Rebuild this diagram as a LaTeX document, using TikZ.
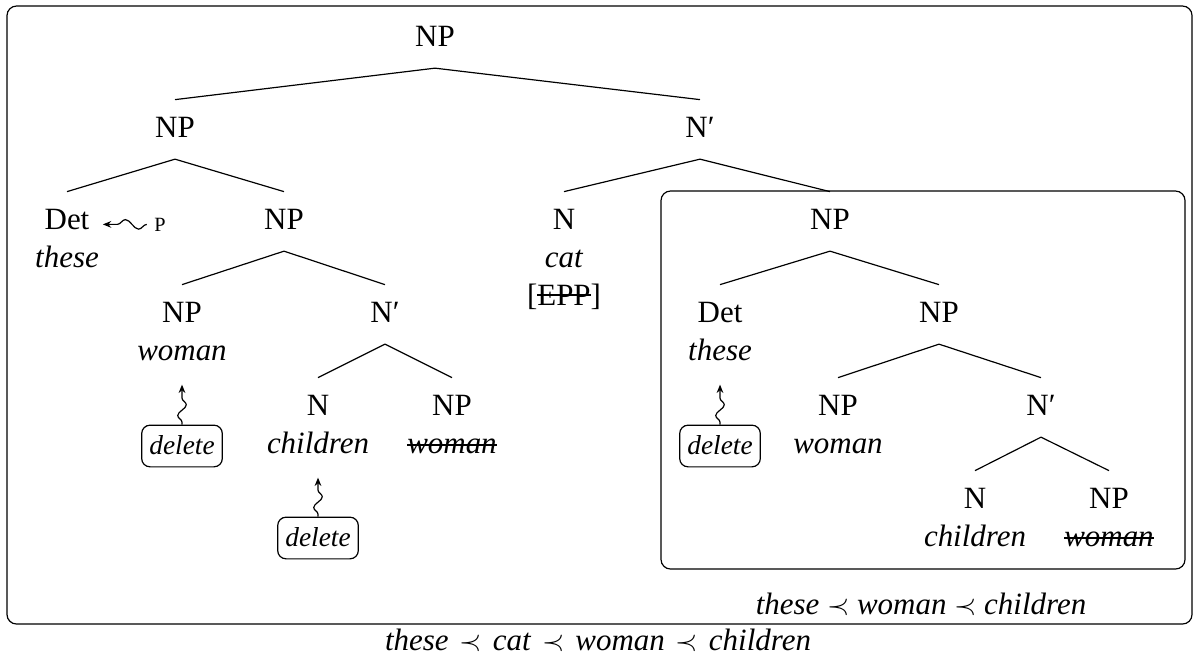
\documentclass[tikz,border=0pt]{standalone}
\usepackage{fontspec}
\setmainfont{Liberation Serif}
\usetikzlibrary{decorations.pathmorphing,arrows.meta}

% struck-through text: optional height of the bar above the baseline
\newcommand\struck[2][0.24em]{\leavevmode\setbox0=\hbox{#2}\rlap{\rule[#1]{\wd0}{0.6pt}}\box0}
% tree label, possibly several lines, baseline on the first line
\newcommand\treelabel[1]{\begin{tabular}[t]{@{}c@{}}#1\end{tabular}}

\tikzset{
  tnode/.style={inner xsep=1.5pt, inner ysep=4.3pt, anchor=base},
  branch/.style={line width=0.5pt},
  frame/.style={draw, rounded corners=4pt, line width=0.5pt, inner sep=0pt},
  delbox/.style={draw, rounded corners=3.5pt, line width=0.5pt,
    font=\fontsize{11.5pt}{14pt}\selectfont\itshape,
    inner xsep=3.2pt, inner ysep=4.5pt, text height=8pt, text depth=0.5pt},
  squiggle/.style={decorate, line width=0.5pt,
    decoration={snake, amplitude=1.8pt, segment length=9pt, pre length=1pt, post length=3pt},
    -{Stealth[length=3.5pt,width=2.8pt]}},
  hsquiggle/.style={decorate, line width=0.5pt,
    decoration={snake, amplitude=2pt, segment length=11pt, pre length=0pt, post length=4pt},
    -{Stealth[length=3.5pt,width=2.8pt]}},
  order/.style={anchor=base, inner sep=0pt}
}

\begin{document}
\begin{tikzpicture}[x=0.42pt, y=-0.42pt, font=\fontsize{13pt}{16pt}\selectfont]
\useasboundingbox (0,0) rectangle (1196,658);

% frames
\node[frame, minimum width=497.7pt, minimum height=259.56pt] (outer) at (599.5,315) {};
\node[frame, minimum width=220.08pt, minimum height=158.76pt] (inner) at (923,380) {};

% root
\node[tnode] (np0) at (435,46) {\treelabel{NP}};

% left subtree
\node[tnode] (np1) at (175,137) {\treelabel{NP}};
\node[tnode] (det1) at (67,229) {\treelabel{Det\\\textit{these}}};
\node[tnode] (np2) at (284,229) {\treelabel{NP}};
\node[tnode] (np4) at (182,322) {\treelabel{NP\\\textit{woman}}};
\node[tnode] (nb2) at (385,322) {\treelabel{N′}};
\node[tnode] (n2) at (318,415) {\treelabel{N\\\textit{children}}};
\node[tnode] (np6) at (452,415) {\treelabel{NP\\\struck{\textit{woman}}}};

% right subtree
\node[tnode] (nb1) at (700,137) {\treelabel{N′}};
\node[tnode] (n1) at (564,229) {\treelabel{N\\\textit{cat}\\{[}\struck[0.3em]{EPP}{]}}};
\node[tnode] (np3) at (830,229) {\treelabel{NP}};
\node[tnode] (det2) at (720,322) {\treelabel{Det\\\textit{these}}};
\node[tnode] (np5) at (939,322) {\treelabel{NP}};
\node[tnode] (np7) at (838,415) {\treelabel{NP\\\textit{woman}}};
\node[tnode] (nb3) at (1041,415) {\treelabel{N′}};
\node[tnode] (n3) at (975,508) {\treelabel{N\\\textit{children}}};
\node[tnode] (np8) at (1109,508) {\treelabel{NP\\\struck{\textit{woman}}}};

% branches
\foreach \p/\c in {np0/np1, np0/nb1, np1/det1, np1/np2, np2/np4, np2/nb2,
                   nb2/n2, nb2/np6, nb1/n1, nb1/np3, np3/det2, np3/np5,
                   np5/np7, np5/nb3, nb3/n3, nb3/np8}
  \draw[branch] (\p.south) -- (\c.north);

% the P feature pointing at the determiner
\node[anchor=base, inner xsep=3pt, inner ysep=1pt, font=\fontsize{8.5pt}{10pt}\selectfont] (pmark) at (160,231) {P};
\draw[hsquiggle] (pmark.west) -- (det1.east |- pmark.west);

% deletion operations
\node[delbox] (del1) at (182,446) {delete};
\node[delbox] (del2) at (318,538) {delete};
\node[delbox] (del3) at (720,446) {delete};
\draw[squiggle, shorten >=1pt] (del1.north) -- (np4.south);
\draw[squiggle, shorten >=1pt] (del2.north) -- (n2.south);
\draw[squiggle, shorten >=1pt] (del3.north) -- (det2.south);

% linear orders
\node[order] (inorder) at (921,614) {\textit{these} $\prec$ \textit{woman} $\prec$ \textit{children}};
\node[order] (outorder) at (598,650) {\makebox[178.9pt][s]{\textit{these} $\prec$ \textit{cat} $\prec$ \textit{woman} $\prec$ \textit{children}}};
\end{tikzpicture}
\end{document}
